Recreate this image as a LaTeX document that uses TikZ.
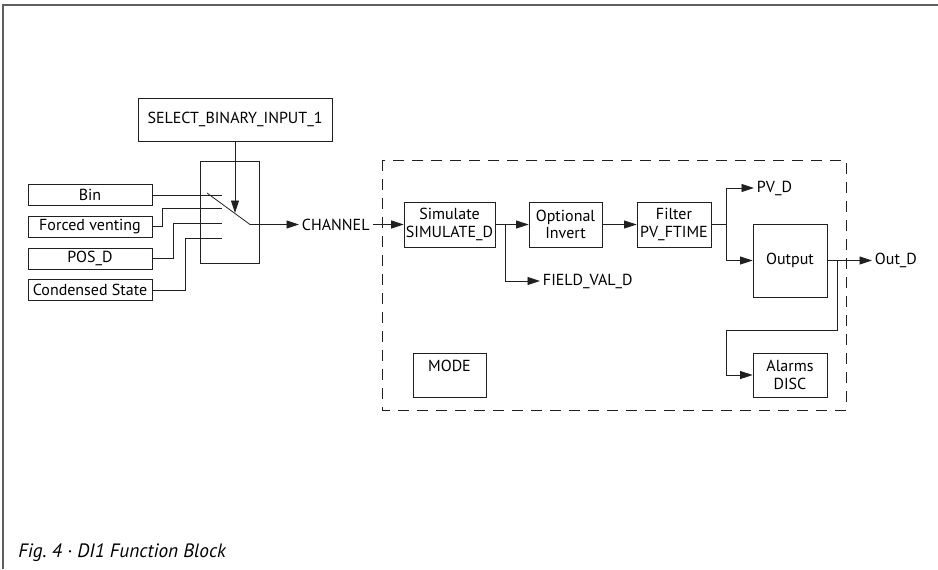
\documentclass[tikz,border=0pt]{standalone}
\usepackage{fontspec}
\setmainfont{PT Sans}
\usetikzlibrary{arrows.meta}
\definecolor{lnblack}{RGB}{35,31,32}
\definecolor{frgray}{RGB}{95,95,95}

\begin{document}
\begin{tikzpicture}[x=0.02cm, y=-0.02cm,
  blk/.style={rectangle, draw=lnblack, line width=0.45pt, align=center,
              font=\fontsize{9.1}{10}\selectfont, inner sep=1pt},
  inbox/.style={blk, minimum width=2.48cm, minimum height=0.42cm},
  fb/.style={blk, minimum width=1.48cm, minimum height=0.9cm},
  lbl/.style={font=\fontsize{9.1}{10}\selectfont, inner sep=1.5pt, anchor=west},
  arr/.style={-{Triangle[length=2.5mm, width=1.6mm]}, line width=0.45pt, lnblack},
  ln/.style={line width=0.45pt, lnblack},
  grp/.style={line width=0.45pt, lnblack, dash pattern=on 2.2mm off 1.6mm}]

\useasboundingbox (0,0) rectangle (938,569);
\draw[frgray, line width=0.7pt] (938,5) -- (3,5) -- (3,569);

% channel selection
\node[blk, minimum width=3.88cm, minimum height=0.86cm] (sel) at (235,119.5) {SELECT\_BINARY\_INPUT\_1};
\node[blk, minimum width=1.18cm, minimum height=2.04cm] (sw) at (229.5,212) {};
\node[inbox] (bin) at (90,195) {Bin};
\node[inbox] (vent) at (90,226.5) {Forced venting};
\node[inbox] (pos) at (90,258.5) {POS\_D};
\node[inbox] (cond) at (90,290) {Condensed State};

\coordinate (in1) at (222,195);
\coordinate (in2) at (222,208);
\coordinate (in3) at (222,223);
\coordinate (in4) at (222,238);
\coordinate (levA) at (207,193);
\coordinate (levB) at (250,224.5);
\coordinate (levT) at (235,213);

\draw[ln] (bin.east) -- (in1);
\draw[ln] (vent.east) -- ++(10,0) |- (in2);
\draw[ln] (pos.east) -- ++(21,0) |- (in3);
\draw[ln] (cond.east) -- ++(33,0) |- (in4);
\draw[ln] (levA) -- (levB);
\draw[arr] (sel.south -| levT) -- (levT);

\node[lbl] (chan) at (299,224.5) {CHANNEL};
\draw[arr] (levB) -- (chan.west);

% DI function block
\draw[grp] (382,160) rectangle (846,410);
\node[fb, minimum width=1.74cm] (sim) at (449.5,224.5) {Simulate\\SIMULATE\_D};
\node[fb, minimum width=1.46cm] (inv) at (565.5,224.5) {Optional\\Invert};
\node[fb] (filt) at (674,224.5) {Filter\\PV\_FTIME};
\node[fb, minimum height=1.46cm] (outp) at (790,260.5) {Output};
\node[fb, minimum height=0.88cm] (alm) at (790,375) {Alarms\\DISC};
\node[blk, minimum width=1.46cm, minimum height=0.88cm,
      label={[anchor=north, font=\fontsize{9.1}{10}\selectfont, inner sep=4pt]north:MODE}] (mode) at (449.5,375) {};

\node[lbl] (fv) at (540,281) {FIELD\_VAL\_D};
\node[lbl] (pv) at (754,188) {PV\_D};
\node[lbl] (outd) at (872,260.5) {Out\_D};

\draw[arr] (chan.east) -- (sim.west);
\draw[arr] (sim.east) -- (inv.west);
\draw[arr] (sim.east) -- ++(10,0) |- (fv.west);
\draw[arr] (inv.east) -- (filt.west);
\draw[arr] (filt.east) -- ++(15,0) |- (pv.west);
\draw[arr] (filt.east) -- ++(15,0) |- (outp.west);
\draw[arr] (outp.east) -- (outd.west);
\draw[arr] (outp.east) -- ++(10,0) -- ++(0,70) -| ++(-111,0) |- (alm.west);

\node[font=\fontsize{11}{13}\selectfont\itshape, anchor=base west, inner sep=0pt] (cap) at (18,557) {Fig.~4 · DI1 Function Block};
\end{tikzpicture}
\end{document}
